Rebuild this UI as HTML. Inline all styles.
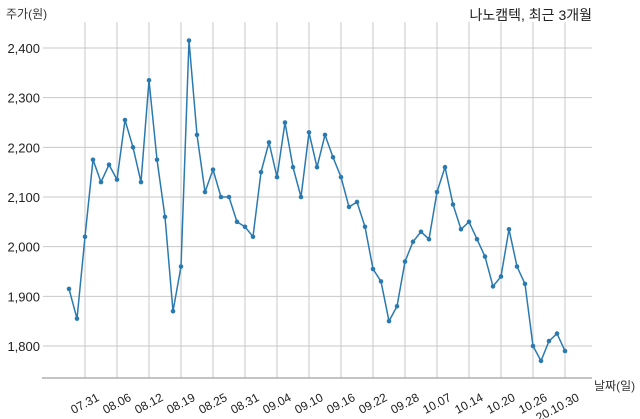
<!DOCTYPE html>
<html><head><meta charset="utf-8"><style>
html,body{margin:0;padding:0;background:#fff;}
svg{display:block;font-family:"Liberation Sans","Noto Sans CJK KR",sans-serif;}
</style></head><body>
<svg id="chart" width="640" height="419" viewBox="0 0 640 419" xmlns="http://www.w3.org/2000/svg">
<text x="592" y="20" text-anchor="end" font-size="14" fill="#222">나노캠텍, 최근 3개월</text>
<text x="6" y="18" font-size="12" fill="#333">주가(원)</text>
<text x="594" y="390" font-size="12" fill="#333">날짜(일)</text>
<g id="grid"></g><g id="axes"></g><g id="series"></g>
</svg>
<script>
const values=[1915,1855,2020,2175,2130,2165,2135,2255,2200,2130,2335,2175,2060,1870,1960,2415,2225,2110,2155,2100,2100,2050,2040,2020,2150,2210,2140,2250,2160,2100,2230,2160,2225,2180,2140,2080,2090,2040,1955,1930,1850,1880,1970,2010,2030,2015,2110,2160,2085,2035,2050,2015,1980,1920,1940,2035,1960,1925,1800,1770,1810,1825,1790];
const xTickIndex=[2,6,10,14,18,22,26,30,34,38,42,46,50,54,58,62];
const xTickLabels=["07.31","08.06","08.12","08.19","08.25","08.31","09.04","09.10","09.16","09.22","09.28","10.07","10.14","10.20","10.26","20.10.30"];
const yTicks=[1800,1900,2000,2100,2200,2300,2400];
const yTickLabels=["1,800","1,900","2,000","2,100","2,200","2,300","2,400"];
const NS="http://www.w3.org/2000/svg";
function X(i){return 69+i*8;}
function Y(v){return 346-(v-1800)*(298/600);}
function mk(t,a,p){const e=document.createElementNS(NS,t);for(const k in a)e.setAttribute(k,a[k]);p.appendChild(e);return e;}
const grid=document.getElementById('grid'),axes=document.getElementById('axes'),series=document.getElementById('series');
yTicks.forEach((v,i)=>{
 const l=mk('line',{x1:43,x2:592,y1:Y(v),y2:Y(v),stroke:'#c8c8c8','stroke-width':1},grid);
 
 
 const t=mk('text',{x:40,y:Y(v)+5,'text-anchor':'end','font-size':13,fill:'#222'},axes);
 t.textContent=yTickLabels[i];
 
 
});
xTickIndex.forEach((idx,i)=>{
 const x=X(idx);
 const l=mk('line',{x1:x,x2:x,y1:22,y2:378,stroke:'#c8c8c8','stroke-width':1},grid);
 
 
 const ax=x+15, ay=400;
 const t=mk('text',{x:ax,y:ay,'text-anchor':'end','font-size':12,fill:'#222',transform:`rotate(-28 ${ax} ${ay})`},axes);
 t.textContent=xTickLabels[i];
 
 
});
const sp=mk('line',{x1:42,x2:592,y1:378,y2:378,stroke:'#888','stroke-width':1},axes);


const pl=mk('polyline',{points:values.map((v,i)=>X(i)+','+Y(v)).join(' '),fill:'none',stroke:'#2a7ab0','stroke-width':1.5},series);


values.forEach((v,i)=>{
 const c=mk('circle',{cx:X(i),cy:Y(v),r:2.3,fill:'#2a7ab0'},series);
 
 
});
</script>
</body></html>
